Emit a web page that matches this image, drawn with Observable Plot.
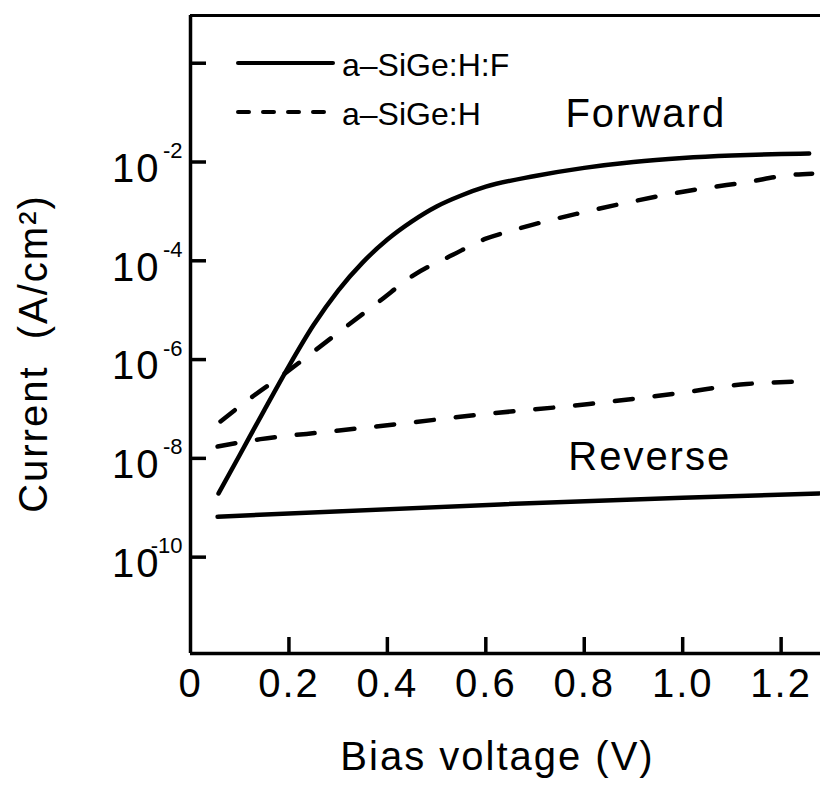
<!DOCTYPE html>
<html><head><meta charset="utf-8">
<script src="https://cdn.jsdelivr.net/npm/d3@7"></script>
<script src="https://cdn.jsdelivr.net/npm/@observablehq/plot@0.6"></script>
<style>
html,body{margin:0;padding:0;background:#fff;}
#wrap{position:relative;width:820px;height:787px;overflow:hidden;}
svg text{font-family:"Liberation Sans",Arial,Helvetica,sans-serif;}
g[font-size="40"] text{letter-spacing:2px;}
text.leg{letter-spacing:0px;}
</style></head><body><div id="wrap"></div>
<script>
// Axis ticks
const xTicks = [0, 0.2, 0.4, 0.6, 0.8, 1.0, 1.2];
const xTickLabels = ["0", "0.2", "0.4", "0.6", "0.8", "1.0", "1.2"];
const yTicks = [1, 1e-2, 1e-4, 1e-6, 1e-8, 1e-10];
const yTickExponents = ["", "-2", "-4", "-6", "-8", "-10"];
const xDomain = [0, 1.28];
const yDomain = [1.12e-12, 9.25];

// a-SiGe:H:F (solid), forward bias
const fwdHF_V = [0.057, 0.1, 0.15, 0.2, 0.25, 0.3, 0.35, 0.4, 0.45, 0.5, 0.55, 0.6, 0.7, 0.8, 0.9, 1.0, 1.1, 1.2, 1.257];
const fwdHF_I = [1.95e-9, 1.17e-8, 9.5e-8, 7.4e-7, 5.0e-6, 2.5e-5, 9.3e-5, 2.7e-4, 6.3e-4, 1.26e-3, 2.1e-3, 3.16e-3, 5.2e-3, 7.6e-3, 1.0e-2, 1.2e-2, 1.35e-2, 1.45e-2, 1.48e-2];
// a-SiGe:H (dashed), forward bias
const fwdH_V = [0.061, 0.122, 0.189, 0.25, 0.318, 0.385, 0.452, 0.533, 0.6, 0.65, 0.696, 0.784, 0.872, 0.959, 1.04, 1.129, 1.222, 1.263];
const fwdH_I = [5.6e-8, 1.66e-7, 5e-7, 1.45e-6, 4.8e-6, 1.55e-5, 5e-5, 1.32e-4, 2.8e-4, 4.0e-4, 5.4e-4, 8.9e-4, 1.4e-3, 2.1e-3, 2.9e-3, 3.9e-3, 5.5e-3, 5.8e-3];
// a-SiGe:H (dashed), reverse bias
const revH_V = [0.055, 0.142, 0.284, 0.432, 0.6, 0.81, 0.993, 1.13, 1.257];
const revH_I = [1.74e-8, 2.45e-8, 3.5e-8, 5.1e-8, 7.9e-8, 1.26e-7, 2.1e-7, 3.2e-7, 3.6e-7];
// a-SiGe:H:F (solid), reverse bias
const revHF_V = [0.055, 0.629, 1.0, 1.277];
const revHF_I = [6.6e-10, 1.17e-9, 1.6e-9, 1.95e-9];

const notes = ["Forward", "Reverse"];
const noteV = [0.925, 0.933];
const noteI = [9.1e-2, 1.07e-8];

const legendLabels = ["a–SiGe:H:F", "a–SiGe:H"];
const xLabel = "Bias voltage (V)";
const yLabel = "Current  (A/cm²)";

const zip = (xs, ys) => xs.map((x, i) => ({x, y: ys[i]}));
const fwdHF = zip(fwdHF_V, fwdHF_I);
const fwdH = zip(fwdH_V, fwdH_I);
const revH = zip(revH_V, revH_I);
const revHF = zip(revHF_V, revHF_I);
const noteData = notes.map((t, i) => ({t, x: noteV[i], y: noteI[i]}));
const yTickData = yTicks.map((v, i) => ({v, e: yTickExponents[i]})).filter(d => d.e !== "");

const W = 820, H = 787, mL = 190, mR = 0, mT = 15, mB = 134;
const frameW = W - mL - mR, frameH = H - mT - mB;
const SW = 4.5;

const plot = Plot.plot({
  width: W, height: H,
  marginLeft: mL, marginRight: mR, marginTop: mT, marginBottom: mB,
  style: {background: "#fff", color: "#000", fontFamily: "Liberation Sans, Arial, sans-serif"},
  x: {domain: xDomain, axis: null},
  y: {type: "log", domain: yDomain, axis: null},
  marks: [
    // frame lines
    Plot.ruleX([xDomain[0]], {strokeWidth: 3.5}),
    Plot.ruleY([yDomain[0]], {strokeWidth: 3.5}),
    Plot.ruleY([yDomain[1]], {strokeWidth: 3}),
    // inward ticks
    Plot.tickX(xTicks.slice(1), {x: d => d, insetTop: frameH - 16, strokeWidth: 3.5}),
    Plot.tickY(yTicks, {y: d => d, insetRight: frameW - 16, strokeWidth: 3.5}),
    // x tick labels
    Plot.axisX(xTicks, {tickSize: 0, tickPadding: 15, fontSize: 40, label: null,
      tickFormat: d => xTickLabels[xTicks.indexOf(d)]}),
    // y tick labels 10^n
    Plot.text(yTickData, {y: "v", frameAnchor: "left", text: () => "10", textAnchor: "end", lineAnchor: "middle", dx: -30, dy: 7, fontSize: 40}),
    Plot.text(yTickData, {y: "v", frameAnchor: "left", text: "e", textAnchor: "end", lineAnchor: "middle", dx: -8, dy: -11, fontSize: 22}),
    // curves
    Plot.line(fwdHF, {x: "x", y: "y", curve: "monotone-x", strokeWidth: SW, strokeLinecap: "round"}),
    Plot.line(revHF, {x: "x", y: "y", curve: "monotone-x", strokeWidth: SW, strokeLinecap: "round"}),
    Plot.line(fwdH, {x: "x", y: "y", curve: "monotone-x", strokeWidth: SW, strokeLinecap: "round", strokeDasharray: "18,22"}),
    Plot.line(revH, {x: "x", y: "y", curve: "monotone-x", strokeWidth: SW, strokeLinecap: "round", strokeDasharray: "18,22"}),
    // annotations
    Plot.text(noteData, {x: "x", y: "y", text: "t", fontSize: 40}),
    // axis titles
    Plot.text([xLabel], {frameAnchor: "bottom", textAnchor: "middle", lineAnchor: "middle", dx: -8, dy: 104, fontSize: 40}),
    Plot.text([yLabel], {frameAnchor: "left", textAnchor: "middle", lineAnchor: "middle", dx: -156, dy: 19, rotate: -90, fontSize: 40})
  ]
});
document.getElementById("wrap").appendChild(plot);

// legend
const svg = d3.select(plot);
const lg = svg.append("g").attr("class", "legend").attr("text-anchor", "start");
const legendDash = [null, "11,14"];
legendLabels.forEach((lab, i) => {
  const yy = 63 + i * 49;
  lg.append("line").attr("x1", 238).attr("x2", 333).attr("y1", yy).attr("y2", yy)
    .attr("stroke", "#000").attr("stroke-width", 4).attr("stroke-linecap", "round")
    .attr("stroke-dasharray", legendDash[i]);
  lg.append("text").attr("class", "leg").attr("x", 342).attr("y", yy + 13)
    .attr("font-size", 32).attr("fill", "#000").attr("text-anchor", "start").text(lab);
});
</script></body></html>
